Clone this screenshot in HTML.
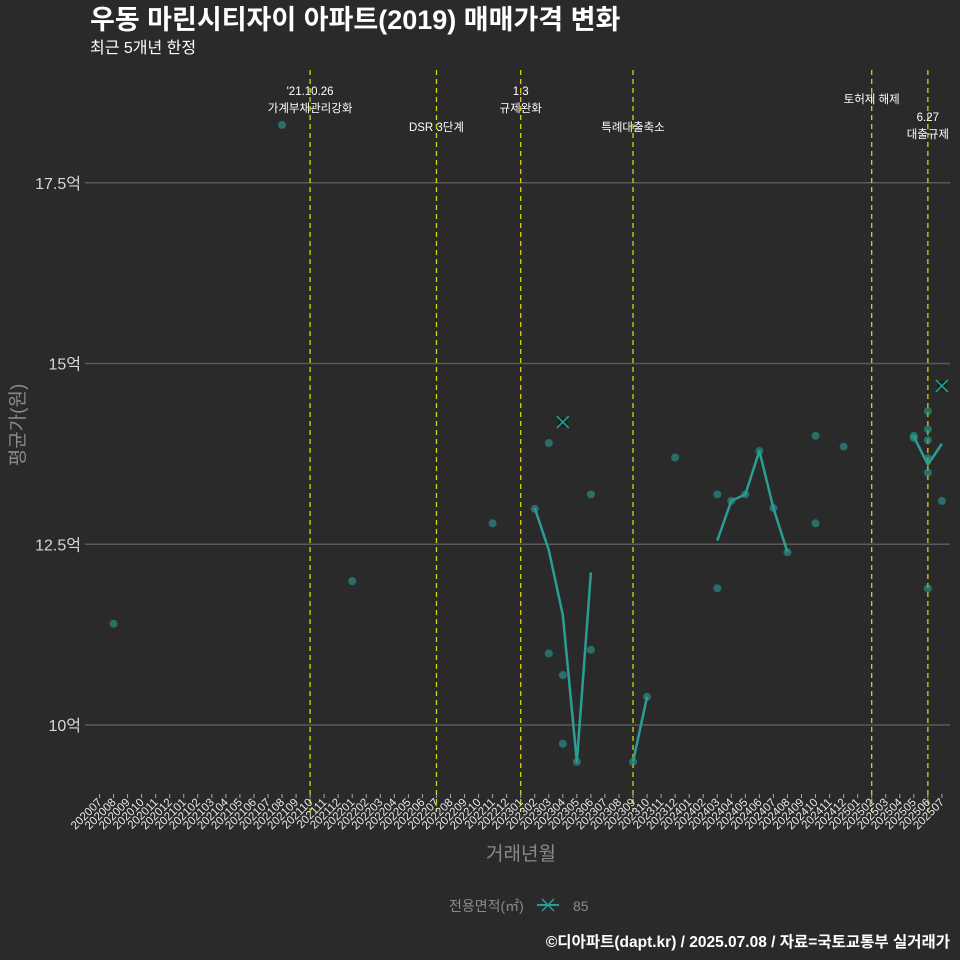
<!DOCTYPE html>
<html><head><meta charset="utf-8">
<style>
html,body{margin:0;padding:0;background:#2b2a2b;}
svg{display:block;font-family:"Liberation Sans","Noto Sans CJK KR",sans-serif;}
</style></head>
<body>
<svg id="chart" width="960" height="960" viewBox="0 0 960 960">
<rect width="960" height="960" fill="#2b2a2b"/>
<text x="90" y="29" font-size="27" font-weight="bold" fill="#ffffff">우동 마린시티자이 아파트(2019) 매매가격 변화</text>
<text x="90" y="53" font-size="16" fill="#ffffff">최근 5개년 한정</text>
<g id="grid"></g>
<g id="vlines"></g>
<g id="annots"></g>
<g id="marks"></g>
<g id="xaxis"></g>
<text x="521" y="860" font-size="19" fill="#8a8a8a" text-anchor="middle">거래년월</text>
<text transform="translate(24,425) rotate(-90)" font-size="19" fill="#8a8a8a" text-anchor="middle">평균가(원)</text>
<g>
<text x="449" y="911" font-size="14" fill="#8a8a8a">전용면적(㎡)</text>
<line x1="537" y1="905" x2="559" y2="905" stroke="#2a9d95" stroke-width="2"/>
<path d="M542 899 L554 911 M554 899 L542 911" stroke="#2a9d95" stroke-width="1.5"/>
<text x="573" y="911" font-size="14" fill="#8a8a8a">85</text>
</g>
<text x="950" y="947" font-size="15.5" font-weight="bold" fill="#ffffff" text-anchor="end">©디아파트(dapt.kr) / 2025.07.08 / 자료=국토교통부 실거래가</text>
</svg>
<script>
const months = [];
for (let y=2020,m=7; !(y===2025&&m===8); ) { months.push(String(y)+String(m).padStart(2,'0')); m++; if(m>12){m=1;y++;} }
const yTicks = [10, 12.5, 15, 17.5];
const yTickLabels = ['10억','12.5억','15억','17.5억'];
const pointMonths = ['202008','202108','202201','202211','202302','202303','202303','202304','202304','202305','202306','202306','202309','202310','202312','202403','202403','202404','202405','202406','202407','202408','202410','202410','202412','202505','202505','202506','202506','202506','202506','202506','202506','202507'];
const pointValues = [11.40,18.30,11.99,12.79,12.99,13.90,10.99,10.69,9.74,9.49,13.19,11.04,9.49,10.39,13.70,13.19,11.89,13.10,13.19,13.79,13.00,12.39,14.00,12.79,13.85,14.00,13.97,14.34,14.09,13.94,13.69,13.49,11.89,13.10];
const lineMonths = ['202302','202303','202304','202305','202306','202307','202309','202310','202311','202403','202404','202405','202406','202407','202408','202409','202505','202506','202507'];
const lineValues = [13.00,12.42,11.52,9.49,12.11,null,9.49,10.39,null,12.55,13.10,13.19,13.79,13.00,12.39,null,13.99,13.60,13.89];
const maxMonths = ['202304','202507'];
const maxValues = [14.19,14.69];
const eventMonths = ['202110','202207','202301','202309','202502','202506'];
const eventLabels = [["'21.10.26","가계부채관리강화"],["DSR 3단계"],["1.3","규제완화"],["특례대출축소"],["토허제 해제"],["6.27","대출규제"]];
const eventLabelY = [91,127,91,127,99,117];

const X0=99.5, DX=14.04;
function xs(m){ return X0 + months.indexOf(m)*DX; }
function ys(v){ return 725 - (v-10)*72.3; }
const NS='http://www.w3.org/2000/svg';
function mk(tag, attrs, parent){ const e=document.createElementNS(NS,tag); for(const k in attrs) e.setAttribute(k,attrs[k]); parent.appendChild(e); return e; }
const grid=document.getElementById('grid'), vl=document.getElementById('vlines'), an=document.getElementById('annots'), marks=document.getElementById('marks'), xa=document.getElementById('xaxis');

yTicks.forEach((t,i)=>{
  const l=mk('line',{x1:85,x2:950,y1:ys(t),y2:ys(t),stroke:'#5a5a5a','stroke-width':1.5},grid);
  
  
  const tx=mk('text',{x:81,y:ys(t)+6,'font-size':16,fill:'#d8d8d8','text-anchor':'end'},grid);
  tx.textContent=yTickLabels[i];
  
  
});

eventMonths.forEach((m,i)=>{
  const x=xs(m);
  const l=mk('line',{x1:x,x2:x,y1:70,y2:812,stroke:'#d4d40f','stroke-width':1.3,'stroke-dasharray':'5 4'},vl);
  
  
  eventLabels[i].forEach((s,j)=>{
    const t=mk('text',{x:x,y:eventLabelY[i]+j*17+4,'font-size':11.5,fill:'#ffffff','text-anchor':'middle'},an);
    t.textContent=s;
    
    
  });
});

let seg=[];
function flush(){ if(seg.length>1){ const p=mk('polyline',{points:seg.join(' '),fill:'none',stroke:'#2a9d95','stroke-width':2.5,'stroke-linejoin':'round'},marks);
  
   } seg=[]; }
lineMonths.forEach((m,i)=>{ const v=lineValues[i]; if(v===null){flush();return;} seg.push(xs(m)+','+ys(v)); });
flush();

pointMonths.forEach((m,i)=>{
  const c=mk('circle',{cx:xs(m),cy:ys(pointValues[i]),r:4,fill:'#2a9d95','fill-opacity':0.6},marks);
  
  
});
maxMonths.forEach((m,i)=>{
  const x=xs(m), y=ys(maxValues[i]);
  const c=mk('circle',{cx:x,cy:y,r:5,fill:'#0f2424'},marks);
  
  
  const p=mk('path',{d:`M${x-6} ${y-6} L${x+6} ${y+6} M${x+6} ${y-6} L${x-6} ${y+6}`,stroke:'#2a9d95','stroke-width':1.5},marks);
  
  
});

months.forEach(m=>{
  const x=xs(m);
  const l=mk('line',{x1:x,x2:x,y1:794,y2:798,stroke:'#aaaaaa','stroke-width':1},xa);
  
  
  const t=mk('text',{x:x+3,y:803,'font-size':11.5,fill:'#e8e8e8','text-anchor':'end',transform:`rotate(-45 ${x+3} 803)`},xa);
  t.textContent=m;
  
  
});
</script>
</body></html>
